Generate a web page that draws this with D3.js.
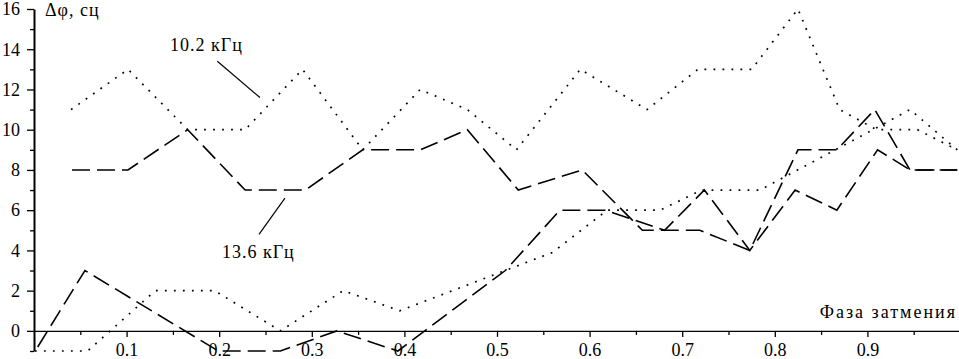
<!DOCTYPE html>
<html>
<head>
<meta charset="utf-8">
<script src="https://cdn.jsdelivr.net/npm/d3@7"></script>
<style>
  body { margin: 0; background: #fff; }
  svg { display: block; }
  svg text { font-family: "Liberation Serif", "DejaVu Serif", serif; fill: #000; }
  .axis text { font-size: 18px; }
  .axis path, .axis line { stroke: #000; }
</style>
</head>
<body>
<div id="chart"></div>
<script>
// eclipse phase (x) and phase change (y)
const phaseA102 = [0.040, 0.1015, 0.166, 0.228, 0.290, 0.355, 0.417, 0.468, 0.521, 0.590, 0.662, 0.717, 0.775, 0.825, 0.870, 0.910, 0.954, 0.997];
const valueA102 = [11, 13, 10, 10, 13, 9, 12, 11, 9, 13, 11, 13, 13, 16, 11, 10, 10, 9];

const phaseB102 = [0.001, 0.058, 0.131, 0.195, 0.266, 0.334, 0.395, 0.560, 0.619, 0.676, 0.721, 0.784, 0.910, 0.946, 0.997];
const valueB102 = [-1, -1, 2, 2, 0, 2, 1, 3.9, 6, 6, 7, 7, 10.1, 11, 9];

const phaseA136 = [0.041, 0.1015, 0.166, 0.228, 0.293, 0.355, 0.417, 0.468, 0.523, 0.592, 0.657, 0.719, 0.773, 0.825, 0.867, 0.908, 0.946, 0.997];
const valueA136 = [8, 8, 10, 7, 7, 9, 9, 10, 7, 8, 5, 5, 4, 9, 9, 11, 8, 8];

const phaseB136 = [0.004, 0.055, 0.199, 0.266, 0.327, 0.393, 0.509, 0.568, 0.617, 0.681, 0.724, 0.773, 0.822, 0.867, 0.911, 0.946, 0.997];
const valueB136 = [-0.8, 3, -1, -1, 0, -1, 3, 6, 6, 5, 7, 4, 7, 6, 9, 8, 8];

const yMajor = [0, 2, 4, 6, 8, 10, 12, 14, 16];
const yMinor = [-1, 1, 3, 5, 7, 9, 11, 13, 15];
const xMajor = [0.1, 0.2, 0.3, 0.4, 0.5, 0.6, 0.7, 0.8, 0.9];
const xMinor = [0.05, 0.15, 0.25, 0.35, 0.45, 0.55, 0.65, 0.75, 0.85, 0.95];

const yTitle = "Δφ, сц";
const xTitle = "Фаза затмения";
const label102 = "10.2 кГц";
const label136 = "13.6 кГц";

const W = 959, H = 359;
const serif = "Liberation Serif, DejaVu Serif, serif";

const svg = d3.select("#chart").append("svg")
    .attr("width", W)
    .attr("height", H);

const x = d3.scaleLinear().domain([0, 1]).range([34, 960]);
const y = d3.scaleLinear().domain([-1, 16]).range([351, 9]);

// y axis: labelled even ticks, short odd ticks
svg.append("g")
    .attr("class", "axis")
    .attr("transform", "translate(" + x(0) + ",0)")
    .call(d3.axisLeft(y).tickValues(yMajor).tickSize(7).tickPadding(7).tickSizeOuter(0))
    .attr("font-family", serif)
    .call(g => g.select(".domain").attr("stroke-width", 2))
    .call(g => g.selectAll(".tick line").attr("stroke-width", 1.3));

svg.append("g")
    .attr("class", "axis")
    .attr("transform", "translate(" + x(0) + ",0)")
    .call(d3.axisLeft(y).tickValues(yMinor).tickSize(4).tickFormat(""))
    .call(g => g.select(".domain").remove())
    .call(g => g.selectAll(".tick line").attr("stroke-width", 1.3));

// x axis along zero
let xg = svg.append("g")
    .attr("class", "axis")
    .attr("transform", "translate(0," + y(0) + ")")
    .call(d3.axisBottom(x).tickValues(xMajor).tickSize(6).tickSizeOuter(0).tickFormat(d3.format(".1f")))
    .attr("font-family", serif)
    .call(g => g.select(".domain").attr("stroke-width", 1.3))
    .call(g => g.selectAll(".tick line").attr("stroke-width", 1.3));
xg.selectAll(".tick text").attr("y", 12);

svg.append("g")
    .attr("class", "axis")
    .attr("transform", "translate(0," + y(0) + ")")
    .call(d3.axisBottom(x).tickValues(xMinor).tickSize(4).tickFormat(""))
    .call(g => g.select(".domain").remove())
    .call(g => g.selectAll(".tick line").attr("stroke-width", 1.3));

// series
const line = d3.line()
    .x(d => x(d[0]))
    .y(d => y(d[1]));

const series = [
    {px: phaseA102, v: valueA102, dash: "1.8,7.2", w: 1.7},
    {px: phaseB102, v: valueB102, dash: "1.8,7.2", w: 1.7},
    {px: phaseA136, v: valueA136, dash: "18,7", w: 1.6},
    {px: phaseB136, v: valueB136, dash: "18,7", w: 1.6}
];

series.forEach(s => {
    svg.append("path")
        .datum(d3.zip(s.px, s.v))
        .attr("fill", "none")
        .attr("stroke", "#000")
        .attr("stroke-width", s.w)
        .attr("stroke-dasharray", s.dash)
        .attr("d", line);
});

// titles
svg.append("text")
    .attr("x", x(0) + 11)
    .attr("y", 16)
    .attr("font-family", serif)
    .attr("font-size", 18)
    .attr("letter-spacing", 1)
    .text(yTitle);

svg.append("text")
    .attr("x", 957)
    .attr("y", 318)
    .attr("text-anchor", "end")
    .attr("font-family", serif)
    .attr("font-size", 18)
    .attr("letter-spacing", 2)
    .text(xTitle);

// annotations with leader lines (placed in data coordinates)
svg.append("text")
    .attr("x", x(0.147))
    .attr("y", y(13.9))
    .attr("font-family", serif)
    .attr("font-size", 18)
    .attr("letter-spacing", 1)
    .text(label102);

svg.append("line")
    .attr("x1", x(0.198)).attr("y1", y(13.4))
    .attr("x2", x(0.244)).attr("y2", y(11.6))
    .attr("stroke", "#000").attr("stroke-width", 1.2);

svg.append("text")
    .attr("x", x(0.203))
    .attr("y", y(3.6))
    .attr("font-family", serif)
    .attr("font-size", 18)
    .attr("letter-spacing", 1)
    .text(label136);

svg.append("line")
    .attr("x1", x(0.271)).attr("y1", y(6.6))
    .attr("x2", x(0.243)).attr("y2", y(4.8))
    .attr("stroke", "#000").attr("stroke-width", 1.2);
</script>
</body>
</html>
